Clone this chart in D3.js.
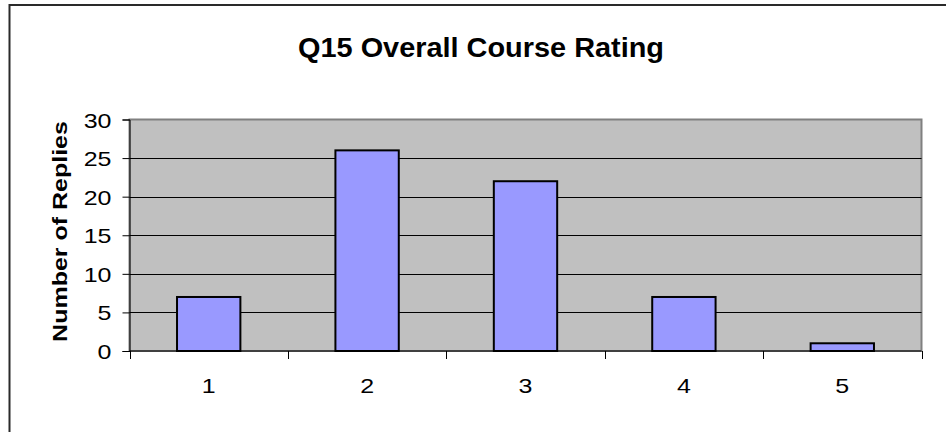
<!DOCTYPE html>
<html>
<head>
<meta charset="utf-8">
<script src="https://cdn.jsdelivr.net/npm/d3@7"></script>
<style>
  html, body { margin: 0; padding: 0; background: #fff; }
  svg { display: block; font-family: Arial, "Liberation Sans", sans-serif; }
</style>
</head>
<body>
<svg id="chart" width="946" height="432"></svg>
<script>
// Data
const ratings = ['1', '2', '3', '4', '5'];
const replies = [7, 26, 22, 7, 1];
const yTicks = [0, 5, 10, 15, 20, 25, 30];

const plot = { left: 129.5, right: 921.5, top: 119.5, bottom: 351 };
// The original chart's text is stretched horizontally
const stretch = 1.19;
const fontFamily = 'Arial, "Liberation Sans", sans-serif';

const svg = d3.select('#chart');

// Outer chart border (right and bottom edges lie outside the picture)
svg.append('rect')
  .attr('x', 9.5).attr('y', 5)
  .attr('width', 960).attr('height', 460)
  .attr('fill', '#fff')
  .attr('stroke', '#2a2a2a')
  .attr('stroke-width', 2);

const x = d3.scaleBand()
  .domain(ratings)
  .range([plot.left, plot.right])
  .paddingInner(0.6)
  .paddingOuter(0.3);

const y = d3.scaleLinear()
  .domain([0, 30])
  .range([plot.bottom, plot.top]);

// Plot area
svg.append('rect')
  .attr('x', plot.left).attr('y', plot.top)
  .attr('width', plot.right - plot.left)
  .attr('height', plot.bottom - plot.top)
  .attr('fill', '#c0c0c0')
  .attr('stroke', '#808080')
  .attr('stroke-width', 2);

// Gridlines
svg.append('g')
  .selectAll('line')
  .data(yTicks.filter(v => v > 0 && v < 30))
  .join('line')
  .attr('x1', plot.left).attr('x2', plot.right)
  .attr('y1', v => Math.round(y(v)) + 0.5)
  .attr('y2', v => Math.round(y(v)) + 0.5)
  .attr('stroke', '#000')
  .attr('stroke-width', 1);

// Bars
svg.append('g')
  .selectAll('rect')
  .data(ratings.map((r, i) => ({ rating: r, value: replies[i] })))
  .join('rect')
  .attr('x', d => x(d.rating))
  .attr('y', d => y(d.value))
  .attr('width', x.bandwidth())
  .attr('height', d => plot.bottom - y(d.value))
  .attr('fill', '#9999ff')
  .attr('stroke', '#000')
  .attr('stroke-width', 2);

// Y axis
const yAxis = svg.append('g')
  .attr('transform', `translate(${plot.left},0)`)
  .call(d3.axisLeft(y).tickValues(yTicks).tickSize(7));
yAxis.select('.domain').attr('stroke', '#000');
yAxis.selectAll('text')
  .attr('x', 0)
  .attr('dy', null)
  .attr('transform', `translate(-18,7.5) scale(${stretch},1)`)
  .attr('font-size', 21)
  .attr('font-family', fontFamily)
  .attr('fill', '#000');

// X axis with ticks at category boundaries
const step = x.step();
const boundaries = d3.range(ratings.length + 1).map(i => plot.left + i * step);
const xAxis = svg.append('g');
xAxis.append('line')
  .attr('x1', plot.left).attr('x2', plot.right)
  .attr('y1', plot.bottom).attr('y2', plot.bottom)
  .attr('stroke', '#000');
xAxis.selectAll('line.tick')
  .data(boundaries)
  .join('line')
  .attr('class', 'tick')
  .attr('x1', d => Math.round(d) + 0.5).attr('x2', d => Math.round(d) + 0.5)
  .attr('y1', plot.bottom).attr('y2', plot.bottom + 8)
  .attr('stroke', '#000');
xAxis.selectAll('text')
  .data(ratings)
  .join('text')
  .attr('transform', d => `translate(${x(d) + x.bandwidth() / 2},393) scale(${stretch},1)`)
  .attr('text-anchor', 'middle')
  .attr('font-size', 21)
  .attr('fill', '#000')
  .text(d => d);

// Title
svg.append('text')
  .attr('transform', 'translate(481,57) scale(1.07,1)')
  .attr('text-anchor', 'middle')
  .attr('font-size', 27)
  .attr('font-weight', 'bold')
  .text('Q15 Overall Course Rating');

// Y axis title
svg.append('text')
  .attr('transform', `translate(67,231.5) rotate(-90) scale(${stretch},1)`)
  .attr('text-anchor', 'middle')
  .attr('font-size', 21)
  .attr('font-weight', 'bold')
  .text('Number of Replies');
</script>
</body>
</html>
